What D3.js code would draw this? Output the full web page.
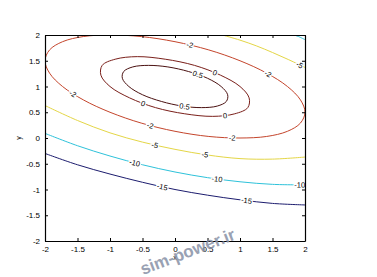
<!DOCTYPE html>
<html>
<head>
<meta charset="utf-8">
<script src="https://cdn.jsdelivr.net/npm/d3@7"></script>
<style>
  body { margin: 0; background: white; }
  svg { display: block; font-family: "Liberation Sans", Arial, sans-serif; }
</style>
</head>
<body>
<script>
// Contour levels, ticks
const levels = [0.5, 0, -2, -5, -10, -15];
const xTicks = [-2, -1.5, -1, -0.5, 0, 0.5, 1, 1.5, 2];
const yTicks = [-2, -1.5, -1, -0.5, 0, 0.5, 1, 1.5, 2];

// Contour lines, as (x, y) points
const ring05 = [[0.71,1.00],[0.50,1.16],[0.21,1.29],[-0.11,1.38],[-0.41,1.41],[-0.65,1.38],[-0.79,1.29],[-0.81,1.16],
  [-0.71,1.00],[-0.50,0.84],[-0.21,0.71],[0.11,0.62],[0.41,0.59],[0.65,0.62],[0.79,0.71],[0.81,0.84]];
const ring0 = [[1.00,1.00],[0.70,1.22],[0.30,1.41],[-0.15,1.53],[-0.58,1.58],[-0.92,1.53],[-1.12,1.41],[-1.14,1.22],
  [-1.00,1.00],[-0.70,0.78],[-0.30,0.59],[0.15,0.47],[0.58,0.42],[0.92,0.47],[1.12,0.59],[1.14,0.78]];
const ringM2 = [[1.73,1.00],[1.41,1.26],[1.00,1.50],[0.52,1.71],[0.00,1.87],[-0.52,1.97],[-1.00,2.00],[-1.41,1.97],
  [-1.73,1.87],[-1.93,1.71],[-2.00,1.50],[-1.93,1.26],[-1.73,1.00],[-1.41,0.74],[-1.00,0.50],[-0.52,0.29],
  [0.00,0.13],[0.52,0.03],[1.00,0.00],[1.41,0.03],[1.73,0.13],[1.93,0.29],[2.00,0.50],[1.93,0.74]];
const lineM5top = [[0.73,2.00],[1.00,1.90],[1.25,1.79],[1.50,1.66],[1.75,1.52],[2.00,1.37]];
const lineM5 = [[-2,0.63],[-1.5,0.34],[-1,0.10],[-0.5,-0.08],[0,-0.22],[0.5,-0.33],[1,-0.40],[1.5,-0.41],[2,-0.37]];
const lineM10top = [[1.83,2.00],[1.90,1.97],[2.00,1.91]];
const lineM10 = [[-2,0.09],[-1.5,-0.15],[-1,-0.35],[-0.5,-0.52],[0,-0.66],[0.5,-0.77],[1,-0.85],[1.5,-0.90],[2,-0.91]];
const lineM15 = [[-2,-0.30],[-1.5,-0.52],[-1,-0.70],[-0.5,-0.86],[0,-1.00],[0.5,-1.11],[1,-1.20],[1.5,-1.27],[2,-1.30]];

const pieces = [
  { level: 0.5, pts: ring05, closed: true },
  { level: 0, pts: ring0, closed: true },
  { level: -2, pts: ringM2, closed: true },
  { level: -5, pts: lineM5top, closed: false },
  { level: -5, pts: lineM5, closed: false },
  { level: -10, pts: lineM10top, closed: false },
  { level: -10, pts: lineM10, closed: false },
  { level: -15, pts: lineM15, closed: false }
];

// Inline labels: level, x, y
const labels = [[0.5,0.35,1.23],[0.5,0.15,0.61],[0,0.62,1.27],[0,-0.49,0.67],[0,0.77,0.44],
  [-2,0.23,1.80],[-2,1.43,1.25],[-2,-1.57,0.86],[-2,-0.38,0.25],[-2,0.88,0.00],
  [-5,1.92,1.42],[-5,-0.31,-0.14],[-5,0.46,-0.32],
  [-10,-0.62,-0.48],[-10,0.65,-0.80],[-10,1.92,-0.91],
  [-15,-0.2,-0.95],[-15,1.1,-1.22]];

const colors = { "0.5": "#4a1010", "0": "#7a1f1a", "-2": "#c4452c", "-5": "#e4d646", "-10": "#2ec2da", "-15": "#1c1c6e" };

const W = 377, H = 277;
const mLeft = 45, mTop = 35, pw = 260, ph = 206;

const x = d3.scaleLinear().domain([-2, 2]).range([mLeft, mLeft + pw]);
const y = d3.scaleLinear().domain([-2, 2]).range([mTop + ph, mTop]);

const svg = d3.select("body").append("svg").attr("width", W).attr("height", H);

svg.append("clipPath").attr("id", "plot")
  .append("rect").attr("x", mLeft).attr("y", mTop).attr("width", pw).attr("height", ph);

const lineOpen = d3.line().x(d => x(d[0])).y(d => y(d[1])).curve(d3.curveCatmullRom.alpha(0.5));
const lineClosed = d3.line().x(d => x(d[0])).y(d => y(d[1])).curve(d3.curveCatmullRomClosed.alpha(0.5));

const cg = svg.append("g").attr("clip-path", "url(#plot)");
const paths = pieces.map(p => {
  const el = cg.append("path")
    .attr("d", (p.closed ? lineClosed : lineOpen)(p.pts))
    .attr("fill", "none")
    .attr("stroke", colors[String(p.level)])
    .attr("stroke-width", 1);
  return { level: p.level, node: el.node() };
});

// snap label onto its line and turn it along the line
function snap(node, px, py) {
  const len = node.getTotalLength();
  let best = 0, bd = Infinity;
  for (let s = 0; s <= len; s += 0.5) {
    const p = node.getPointAtLength(s);
    const d = (p.x - px) ** 2 + (p.y - py) ** 2;
    if (d < bd) { bd = d; best = s; }
  }
  const p = node.getPointAtLength(best);
  const a = node.getPointAtLength(Math.max(0, best - 4));
  const b = node.getPointAtLength(Math.min(len, best + 4));
  let ang = Math.atan2(b.y - a.y, b.x - a.x) * 180 / Math.PI;
  if (ang > 90) ang -= 180;
  if (ang < -90) ang += 180;
  return { x: p.x, y: p.y, ang: ang, d: bd };
}

const lg = svg.append("g");
labels.forEach(l => {
  let best = null;
  paths.filter(p => p.level === l[0]).forEach(p => {
    const s = snap(p.node, x(l[1]), y(l[2]));
    if (!best || s.d < best.d) best = s;
  });
  lg.append("text")
    .attr("transform", "translate(" + best.x + "," + best.y + ") rotate(" + best.ang + ")")
    .attr("text-anchor", "middle")
    .attr("dy", "0.35em")
    .attr("font-size", "7.5px")
    .attr("fill", "black")
    .attr("stroke", "white")
    .attr("stroke-width", 2.5)
    .attr("paint-order", "stroke")
    .text(String(l[0]));
});

// Axes, ticks inward on all four sides
const fmt = d => String(d);
svg.append("g")
  .attr("transform", "translate(0," + (mTop + ph) + ")")
  .call(d3.axisBottom(x).tickValues(xTicks).tickFormat(fmt).tickSize(-3).tickSizeOuter(0).tickPadding(5));
svg.append("g")
  .attr("transform", "translate(" + mLeft + ",0)")
  .call(d3.axisLeft(y).tickValues(yTicks).tickFormat(fmt).tickSize(-3).tickSizeOuter(0).tickPadding(5));
svg.append("g")
  .attr("transform", "translate(0," + mTop + ")")
  .call(d3.axisTop(x).tickValues(xTicks).tickFormat("").tickSize(-3).tickSizeOuter(0));
svg.append("g")
  .attr("transform", "translate(" + (mLeft + pw) + ",0)")
  .call(d3.axisRight(y).tickValues(yTicks).tickFormat("").tickSize(-3).tickSizeOuter(0));

svg.selectAll(".domain").attr("stroke", "black").attr("stroke-width", 1.2);
svg.selectAll(".tick line").attr("stroke", "black");
svg.selectAll(".tick text").attr("font-size", "8px").attr("fill", "black")
  .attr("font-family", "Liberation Sans, Arial, sans-serif");

// Axis titles
svg.append("text").attr("x", x(0)).attr("y", 260).attr("text-anchor", "middle")
  .attr("font-size", "7px").text("x");
svg.append("text").attr("transform", "translate(21," + y(0) + ") rotate(-90)")
  .attr("text-anchor", "middle").attr("font-size", "7px").text("y");

// Watermark
svg.append("text")
  .attr("transform", "translate(143,275) rotate(-21)")
  .attr("font-size", "17px").attr("font-weight", "bold")
  .attr("fill", "#8891a6").attr("opacity", 0.85)
  .text("sim-power.ir");
</script>
</body>
</html>
